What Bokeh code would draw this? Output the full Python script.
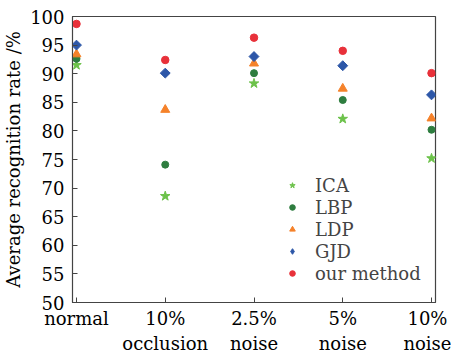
from bokeh.plotting import figure
from bokeh.models import FixedTicker, ColumnDataSource, Legend, LegendItem
from bokeh.embed import file_html
from bokeh.resources import INLINE
import math

categories = ["normal", "10%\nocclusion", "2.5%\nnoise", "5%\nnoise", "10%\nnoise"]
ica = [91.5, 68.6, 88.3, 82.1, 75.2]
lbp = [92.6, 74.1, 90.1, 85.4, 80.2]
ldp = [93.4, 83.7, 91.8, 87.4, 82.2]
gjd = [95.0, 90.1, 93.0, 91.4, 86.3]
ours = [98.7, 92.4, 96.3, 94.0, 90.1]
yticks = [50, 55, 60, 65, 70, 75, 80, 85, 90, 95, 100]

xs = list(range(1, len(categories) + 1))
FONT = "DejaVu Serif"

p = figure(width=451, height=356, output_backend="svg", toolbar_location=None,
           x_range=(0.955, 5.045), y_range=(50, 100),
           min_border_left=68, min_border_right=16, min_border_top=16, min_border_bottom=54)
p.background_fill_color = "white"
p.border_fill_color = "white"
p.outline_line_color = "#444444"
p.outline_line_width = 1.2
p.grid.visible = False

p.xaxis.ticker = FixedTicker(ticks=xs)
p.xaxis.major_label_overrides = {i: c for i, c in zip(xs, categories)}
p.yaxis.ticker = FixedTicker(ticks=yticks)
for ax in (p.xaxis, p.yaxis):
    ax.major_tick_in = 5
    ax.major_tick_out = 0
    ax.minor_tick_line_color = None
    ax.axis_line_color = "#444444"
    ax.major_tick_line_color = "#444444"
    ax.major_label_text_font = FONT
    ax.major_label_text_font_size = "18px"
    ax.major_label_text_color = "black"
p.yaxis.major_label_standoff = 8
p.xaxis.major_label_standoff = 5
p.yaxis.axis_label = "Average recognition rate /%"
p.yaxis.axis_label_text_font = FONT
p.yaxis.axis_label_text_font_size = "18px"
p.yaxis.axis_label_text_font_style = "normal"
p.yaxis.axis_label_text_color = "black"
p.yaxis.axis_label_standoff = 3

series = [
    ("ICA", ica, "star", "#6cc24a", 10, 0, "star", 7),
    ("LBP", lbp, "circle", "#2e7d3f", 7, 0, "circle", 5),
    ("LDP", ldp, "triangle", "#f5822a", 9, 0, "triangle", 7),
    ("GJD", gjd, "square", "#2d57a8", 7, math.pi / 4, "diamond", 8),
    ("our method", ours, "circle", "#e8313a", 7.5, 0, "circle", 5),
]
items = []
for name, vals, marker, color, size, ang, lmarker, lsize in series:
    src = ColumnDataSource(dict(x=xs, y=vals))
    p.scatter("x", "y", source=src, marker=marker, size=size, angle=ang,
              fill_color=color, line_color=color)
    lr = p.scatter(x=[float("nan")], y=[float("nan")], marker=lmarker, size=lsize,
                   fill_color=color, line_color=color)
    items.append(LegendItem(label=name, renderers=[lr]))

legend = Legend(items=items, location=(213, 18))
legend.border_line_color = None
legend.background_fill_alpha = 0
legend.label_text_font = FONT
legend.label_text_font_size = "18px"
legend.label_height = 22
legend.glyph_height = 14
legend.glyph_width = 14
legend.spacing = 0
legend.padding = 0
legend.margin = 0
legend.label_standoff = 16
p.add_layout(legend)

open("out.html", "w").write(file_html(p, INLINE))
